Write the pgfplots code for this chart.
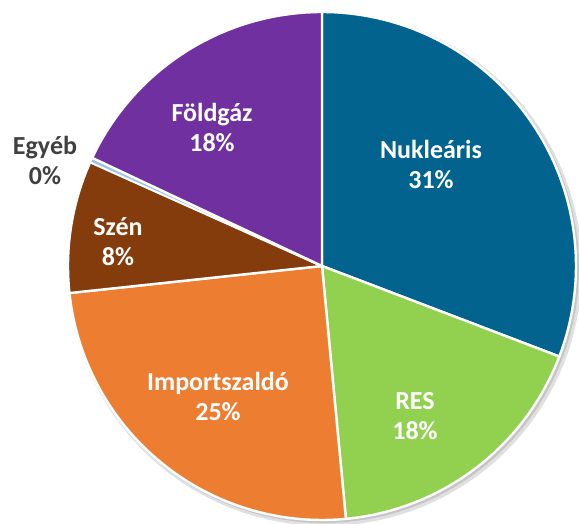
\documentclass[border=0pt]{standalone}
\usepackage{pgfplots}
\pgfplotsset{compat=1.18}
\usepackage{fontspec}
\setmainfont{Carlito}
\definecolor{cN}{HTML}{02638F}
\definecolor{cR}{HTML}{92D050}
\definecolor{cI}{HTML}{ED7D31}
\definecolor{cS}{HTML}{843C0C}
\definecolor{cE}{HTML}{9DC3E6}
\definecolor{cF}{HTML}{7030A0}
\definecolor{lbl}{HTML}{404040}
\tikzset{lab/.style={font=\fontsize{19.5}{22.5}\selectfont\bfseries,align=center}}
% shares in percent
\def\vN{30.8}\def\vR{17.7}\def\vI{24.8}\def\vS{8.4}\def\vE{0.3}\def\vF{18.0}
\pgfmathsetmacro{\aA}{90}
\pgfmathsetmacro{\aB}{\aA-3.6*\vN}
\pgfmathsetmacro{\aC}{\aB-3.6*\vR}
\pgfmathsetmacro{\aD}{\aC-3.6*\vI}
\pgfmathsetmacro{\aE}{\aD-3.6*\vS}
\pgfmathsetmacro{\aF}{\aE-3.6*\vE}
\pgfmathsetmacro{\aG}{\aF-3.6*\vF}
\def\cx{322}\def\cy{258}\def\rr{254}
\begin{document}
\begin{tikzpicture}
\useasboundingbox (0,0) rectangle (434.25pt,393pt);
\begin{axis}[x=0.75pt,y=0.75pt,xmin=0,xmax=579,ymin=0,ymax=524,
  hide axis,clip=false,at={(0,0)},anchor=origin]
% soft shadow
\addplot[fill=black,fill opacity=0.12,draw=none,domain=0:360,samples=120,variable=\t]
  ({\cx+3+(\rr+3)*cos(\t)},{\cy-3+(\rr+3)*sin(\t)});
\addplot[fill=black,fill opacity=0.12,draw=none,domain=0:360,samples=120,variable=\t]
  ({\cx+2+(\rr+1)*cos(\t)},{\cy-2+(\rr+1)*sin(\t)});
% slices
\addplot[fill=cN,draw=white,line width=1.8pt,line join=round,domain=\aB:\aA,samples=80,variable=\t]
  ({\cx+\rr*cos(\t)},{\cy+\rr*sin(\t)}) -- (axis cs:\cx,\cy) -- cycle;
\addplot[fill=cR,draw=white,line width=1.8pt,line join=round,domain=\aC:\aB,samples=60,variable=\t]
  ({\cx+\rr*cos(\t)},{\cy+\rr*sin(\t)}) -- (axis cs:\cx,\cy) -- cycle;
\addplot[fill=cI,draw=white,line width=1.8pt,line join=round,domain=\aD:\aC,samples=80,variable=\t]
  ({\cx+\rr*cos(\t)},{\cy+\rr*sin(\t)}) -- (axis cs:\cx,\cy) -- cycle;
\addplot[fill=cS,draw=white,line width=1.8pt,line join=round,domain=\aE:\aD,samples=40,variable=\t]
  ({\cx+\rr*cos(\t)},{\cy+\rr*sin(\t)}) -- (axis cs:\cx,\cy) -- cycle;
\addplot[fill=cE,draw=white,line width=1.2pt,line join=round,domain=\aF:\aE,samples=5,variable=\t]
  ({\cx+\rr*cos(\t)},{\cy+\rr*sin(\t)}) -- (axis cs:\cx,\cy) -- cycle;
\addplot[fill=cF,draw=white,line width=1.8pt,line join=round,domain=\aG:\aF,samples=60,variable=\t]
  ({\cx+\rr*cos(\t)},{\cy+\rr*sin(\t)}) -- (axis cs:\cx,\cy) -- cycle;
% labels
\node[lab,text=white] at (axis cs:431,360) {Nukleáris\\31\%};
\node[lab,text=white] at (axis cs:415,108) {RES\\18\%};
\node[lab,text=white] at (axis cs:218,128) {Importszaldó\\25\%};
\node[lab,text=white] at (axis cs:118,282) {Szén\\8\%};
\node[lab,text=lbl] at (axis cs:45,364) {Egyéb\\0\%};
\node[lab,text=white] at (axis cs:212,397) {Földgáz\\18\%};
\end{axis}
\end{tikzpicture}
\end{document}
